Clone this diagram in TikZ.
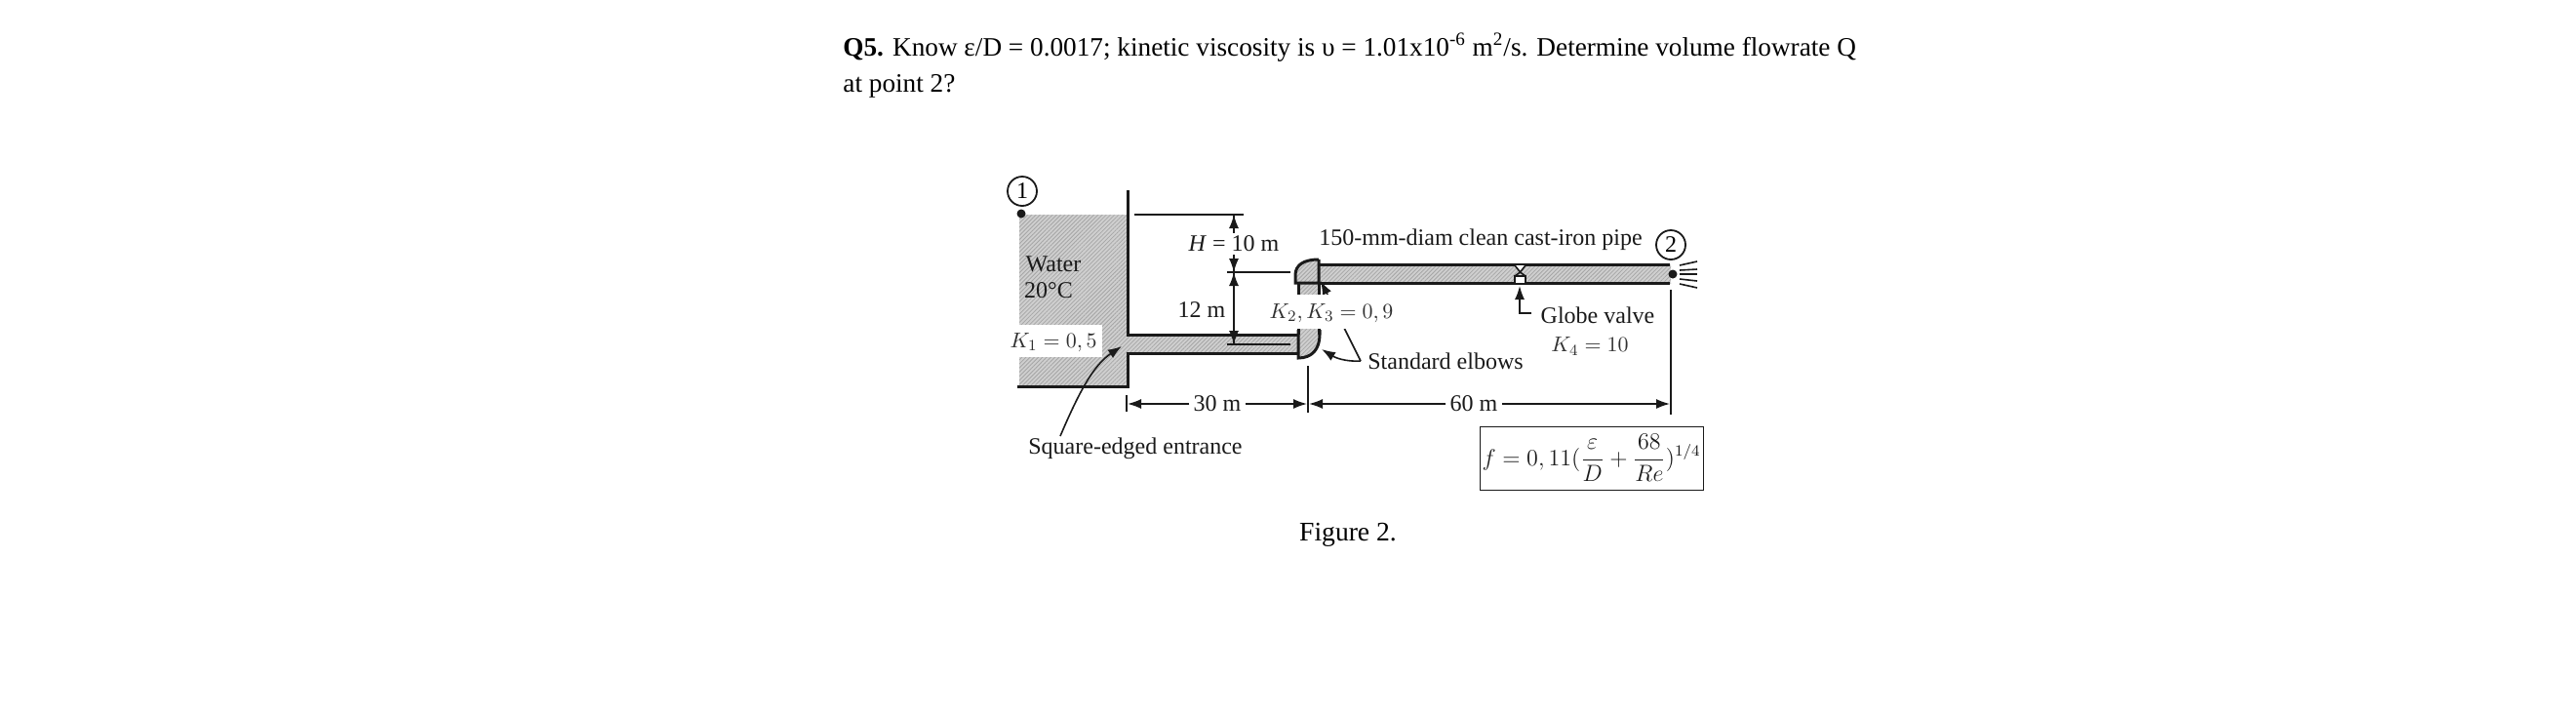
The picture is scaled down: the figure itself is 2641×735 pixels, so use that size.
\documentclass[tikz,border=0pt]{standalone}
\usepackage{fontspec}
\setmainfont{Liberation Serif}
\usetikzlibrary{arrows.meta,patterns.meta}
\definecolor{ink}{HTML}{1A1A1A}
\tikzset{
  water/.style={fill=gray!38,postaction={pattern={Lines[angle=45,distance=1.5pt,line width=.4pt]},pattern color=gray!70}},
  wall/.style={draw=ink,line width=1.5pt},
  thin line/.style={draw=ink,line width=.8pt},
  dim/.style={draw=ink,line width=.8pt,-{Latex[length=7pt,width=5pt]}},
  label/.style={inner sep=0pt,text=ink,font=\fontsize{12}{14}\selectfont},
  mlabel/.style={inner sep=0pt,text=ink!90,font=\fontsize{11.1}{13}\selectfont},
  title/.style={inner sep=0pt,anchor=base west,text=black,font=\fontsize{13.62}{16}\selectfont},
  cover/.style={fill=white,draw=none}
}
\begin{document}
\begin{tikzpicture}[x=.5pt,y=-.5pt]
\useasboundingbox (0,0) rectangle (2641,735);
% title
\node[title] (q1) at (864,57) {\textbf{Q5.} Know ε/D = 0.0017; kinetic viscosity is υ = 1.01x10\textsuperscript{-6} m\textsuperscript{2}/s. Determine volume flowrate Q};
\node[title] (q2) at (864,94) {at point 2?};
\node[inner sep=0pt,font=\fontsize{13.8}{16}\selectfont] (fig) at (1382,548) {Figure 2.};
% fluid
\fill[water] (1045,220) -- (1156,220) -- (1156,343) -- (1330,343) -- (1330,362) -- (1156,362) -- (1156,396) -- (1045,396) -- cycle;
\fill[water] (1352,271) rectangle (1713,290);
\fill[water] (1330,290) rectangle (1352,343);
\fill[water] (1352,266) -- (1352,290) -- (1328,290) -- (1328,282) .. controls (1328,272) and (1336,266) .. (1352,266) -- cycle;
\fill[water] (1331,343) -- (1353,343) .. controls (1353,358) and (1345,367) .. (1331,367) -- cycle;
% walls
\draw[wall] (1156,195) -- (1156,343) -- (1330,343);
\draw[wall] (1043,396) -- (1156,396) -- (1156,362) -- (1330,362);
\draw[wall] (1352,271) -- (1712,271);
\draw[wall] (1352,290) -- (1712,290);
\draw[wall] (1352,266) -- (1352,290) -- (1328,290) -- (1328,282) .. controls (1328,272) and (1336,266) .. (1352,266);
\draw[wall] (1331,338) -- (1331,367) .. controls (1345,367) and (1353,358) .. (1353,343) -- (1353,338);
\draw[wall] (1331,290) -- (1331,343);
\draw[wall] (1352,290) -- (1352,343);
% pointer lines to elbows
\coordinate (elbowjoin) at (1395,370);
\coordinate (elbowup) at (1354,288);
\coordinate (elbowlow) at (1355,358);
\draw[dim] (elbowjoin) -- (elbowup);
\draw[dim] (elbowjoin) .. controls (1378,371) and (1368,366) .. (elbowlow);
% surface and level lines
\coordinate (surf) at (1265,220);
\coordinate (midl) at (1265,279);
\coordinate (lowl) at (1265,353);
\coordinate (surfl) at (1163,220);
\coordinate (surfr) at (1275,220);
\coordinate (midla) at (1258,279);
\coordinate (midlb) at (1323,279);
\coordinate (lowla) at (1258,353);
\coordinate (lowlb) at (1323,353);
\draw[line width=1.1pt,draw=ink] (surfl) -- (surfr);
\draw[thin line] (midla) -- (midlb);
\draw[thin line] (lowla) -- (lowlb);
\draw[dim] (midl) -- (surf);
\draw[dim] (surf) -- (midl);
\draw[dim] (midl) -- (lowl);
\draw[dim] (lowl) -- (midl);
% point markers
\node[draw=ink,line width=.9pt,circle,minimum size=15pt,inner sep=0pt,font=\fontsize{12}{14}\selectfont] (p1) at (1048,196) {1};
\node[fill=ink,circle,minimum size=4.5pt,inner sep=0pt] (d1) at (1047,219) {};
\node[draw=ink,line width=.9pt,circle,minimum size=15pt,inner sep=0pt,font=\fontsize{12}{14}\selectfont] (p2) at (1713,251) {2};
\node[fill=ink,circle,minimum size=4.5pt,inner sep=0pt] (d2) at (1715,281) {};
\foreach \ya/\yb in {272/268,277/276,281/281,286/288,291/295}
  \draw[thin line] (1722,\ya) -- (1740,\yb);
% valve
\coordinate (va) at (1553,272); \coordinate (vb) at (1564,272);
\coordinate (vc) at (1553,283); \coordinate (vd) at (1564,283);
\fill[white] (1553,272) -- (1564,272) -- (1558.5,279) -- cycle;
\draw[thin line] (va) -- (1558.5,279) -- (vb);
\draw[thin line] (1558.5,279) -- (vc);
\draw[thin line] (1558.5,279) -- (vd);
\draw[thin line,fill=white] (1553,283) rectangle (1564,291);
\coordinate (vt) at (1558,293);
\coordinate (vk) at (1558,321);
\coordinate (ve) at (1570,321);
\draw[dim] (ve) -- (vk) -- (vt);
% white boxes and labels
\fill[cover] (1033,333) rectangle (1130,366);
\fill[cover] (1302,302) rectangle (1430,337);
\node[mlabel] (k1) at (1080,351) {$K_1=0,5$};
\node[mlabel] (k23) at (1365,321) {$K_2,K_3=0,9$};
\node[mlabel] (k4) at (1630,355) {$K_4=10$};
\node[label,fill=white,inner sep=1.5pt] (hl) at (1265,250) {\textit{H} = 10 m};
\node[label,fill=white,inner sep=1pt] (l12) at (1232,318) {12 m};
\node[label] (w1) at (1080,271) {Water};
\node[label] (w2) at (1075,298) {20°C};
\node[label] (pipe) at (1518,246) {150-mm-diam clean cast-iron pipe};
\node[label] (gv) at (1638,323) {Globe valve};
\node[label] (se) at (1482,370) {Standard elbows};
\node[label] (sq) at (1164,460) {Square-edged entrance};
% entrance pointer
\coordinate (entry) at (1150,355);
\coordinate (entrytail) at (1087,447);
\draw[dim] (entrytail) .. controls (1105,405) and (1120,375) .. (entry);
% dimensions
\coordinate (t30a) at (1155,405); \coordinate (t30b) at (1155,422);
\coordinate (t60a) at (1341,375); \coordinate (t60b) at (1341,423);
\coordinate (t90a) at (1713,297); \coordinate (t90b) at (1713,425);
\draw[thin line] (t30a) -- (t30b);
\draw[thin line] (t60a) -- (t60b);
\draw[thin line] (t90a) -- (t90b);
\node[label,fill=white,inner sep=2pt] (m30) at (1248,414) {30 m};
\node[label,fill=white,inner sep=2pt] (m60) at (1511,414) {60 m};
\coordinate (a30) at (1156,414); \coordinate (b30) at (1340,414);
\coordinate (a60) at (1342,414); \coordinate (b60) at (1712,414);
\draw[dim] (m30.west) -- (a30);
\draw[dim] (m30.east) -- (b30);
\draw[dim] (m60.west) -- (a60);
\draw[dim] (m60.east) -- (b60);
% formula
\node[draw=ink,line width=.5pt,minimum width=114.5pt,minimum height=32.5pt,inner sep=0pt,text=ink,font=\fontsize{11.8}{15}\selectfont] (fbox) at (1631.5,469.5)
  {$\displaystyle f=0,11(\frac{\varepsilon}{D}+\frac{68}{Re})^{1/4}$};
\end{tikzpicture}
\end{document}
